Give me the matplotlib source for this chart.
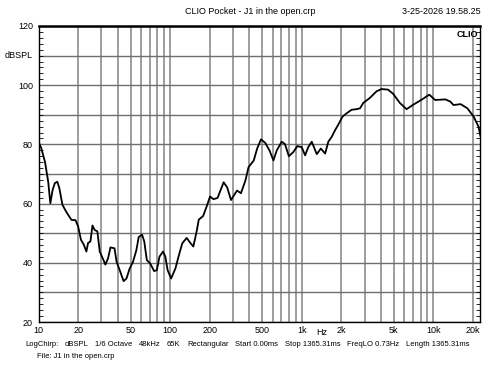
import matplotlib
matplotlib.use("Agg")
import matplotlib.pyplot as plt
from matplotlib.ticker import FixedLocator, NullLocator

plt.rcParams['font.family'] = ['Liberation Sans', 'DejaVu Sans']

freq_hz = [10, 10.5, 11.2, 11.85, 12.3, 12.8, 13.3, 13.9, 14.4, 15.2, 16.3, 17.8, 19.1,
           20, 21, 22.1, 23.1, 23.8, 24.8, 25.7, 26.7, 28.0, 29.2, 31.1, 32.2, 33.8, 35.2,
           37.8, 39.2, 41.4, 44.3, 46.6, 49.3, 52.2, 55.4, 57.7, 61.2, 63.6, 66.5, 70.5,
           75.6, 79.2, 83.0, 88.3, 91.9, 95.7, 101.7, 109.7, 116.6, 123.7, 133.5, 143, 150,
           159, 165, 178, 190, 201, 213, 229, 255, 271, 290, 322, 345, 373, 394, 432, 458,
           490, 528, 568, 609, 646, 704, 745, 798, 862, 924, 998, 1060, 1120, 1190, 1300,
           1395, 1505, 1590, 1690, 1790, 1890, 2040, 2190, 2390, 2610, 2770, 2930, 3290,
           3690, 4030, 4520, 4940, 5560, 6250, 7020, 8130, 9300, 10300, 12300, 13400,
           14200, 16100, 18100, 20200, 22000, 22700]
spl_db = [80.9, 78.7, 74.1, 67.4, 60.1, 64.6, 66.9, 67.4, 65.2, 59.6, 57.1, 54.5, 54.4,
          52.3, 47.8, 46.1, 43.8, 46.7, 47.2, 52.6, 51.1, 50.6, 43.8, 41.0, 39.4, 41.6, 45.2,
          44.9, 40.3, 37.5, 33.8, 34.7, 38.1, 40.3, 44.3, 48.7, 49.5, 47.2, 40.9, 39.8,
          37.2, 37.5, 42.1, 43.8, 42.1, 37.5, 34.7, 38.1, 42.6, 46.6, 48.4, 46.6, 45.5,
          50.6, 54.6, 55.8, 59.2, 62.4, 61.5, 61.9, 67.2, 65.5, 61.2, 64.4, 63.5, 67.8,
          72.3, 74.6, 78.6, 81.7, 80.5, 78.0, 74.6, 78.0, 80.9, 80.1, 76.0, 77.4, 79.4,
          79.1, 76.3, 79.1, 80.9, 76.7, 78.6, 76.9, 80.9, 82.6, 84.8, 86.6, 89.4, 90.5,
          91.7, 91.9, 92.2, 94.0, 95.7, 97.9, 98.7, 98.5, 97.1, 94.0, 91.9, 93.4, 95.1,
          96.8, 95.0, 95.2, 94.5, 93.3, 93.6, 92.2, 89.4, 86.0, 83.0]

x_tick_vals = [10, 20, 50, 100, 200, 500, 1000, 2000, 5000, 10000, 20000]
x_tick_labels = ['10', '20', '50', '100', '200', '500', '1k', '2k', '5k', '10k', '20k']
x_grid_vals = [d * m for d in (10, 100, 1000) for m in range(1, 10)] + [10000, 20000]
y_tick_vals = [20, 40, 60, 80, 100, 120]
y_grid_vals = list(range(20, 121, 10))

title = 'CLIO Pocket - J1 in the open.crp'
date_text = '3-25-2026 19.58.25'
info_fields = ['LogChirp:', 'dBSPL', '1/6 Octave', '48kHz', '65K', 'Rectangular',
               'Start 0.00ms', 'Stop 1365.31ms', 'FreqLO 0.73Hz', 'Length 1365.31ms']
file_line = 'File: J1 in the open.crp'

fig = plt.figure(figsize=(5, 3.75), dpi=100)
ax = fig.add_axes([0.077, 0.1413, 0.8836, 0.7894])
ax.set_xscale('log')
ax.set_xlim(10, 22700)
ax.set_ylim(20, 120)

for xv in x_grid_vals:
    ax.axvline(xv, color='#8c8c8c', lw=1.2, zorder=1)
for yv in y_grid_vals:
    ax.axhline(yv, color='#6e6e6e', lw=1.0, zorder=1)

ax.plot(freq_hz, spl_db, color='black', lw=1.3, zorder=3)

ax.xaxis.set_major_locator(FixedLocator(x_tick_vals))
ax.set_xticklabels(x_tick_labels)
ax.xaxis.set_minor_locator(NullLocator())
ax.tick_params(axis='x', which='both', length=0, labelsize=6.5, pad=3)

ax.yaxis.set_major_locator(FixedLocator(y_tick_vals))
ax.set_yticklabels([str(v) for v in y_tick_vals])
ax.yaxis.set_minor_locator(FixedLocator(list(range(20, 121, 2))))
ax.tick_params(axis='y', which='major', length=0, labelsize=6.5, pad=4)
ax.tick_params(axis='y', which='minor', direction='in', length=3, width=0.6,
               left=True, right=True)

for s in ax.spines.values():
    s.set_color('black')
    s.set_linewidth(1.0)
ax.spines['top'].set_linewidth(1.8)

ax.text(-0.012, 0.9, 'dBSPL', transform=ax.transAxes, ha='right', va='center', fontsize=6.5)
ax.annotate('Hz', xy=(1420, 20), xycoords='data', xytext=(0, -4.2),
            textcoords='offset points', ha='center', va='top', fontsize=6.5,
            annotation_clip=False)
ax.text(0.995, 0.985, 'CLIO', transform=ax.transAxes, ha='right', va='top',
        fontsize=6.5, fontweight='bold', zorder=5)

fig.text(0.5, 0.968, title, ha='center', va='center', fontsize=6.5)
fig.text(0.961, 0.968, date_text, ha='right', va='center', fontsize=6.5)

# info line: fields spread between x=25 px and x=469 px
renderer = fig.canvas.get_renderer()
info_y = 1 - 344 / 375
texts = [fig.text(0, info_y, f, ha='left', va='center', fontsize=5.5) for f in info_fields]
widths = [t.get_window_extent(renderer=renderer).width for t in texts]
x0_px, x1_px = 25.0, 469.0
gap = (x1_px - x0_px - sum(widths)) / (len(texts) - 1)
xp = x0_px
for t, w in zip(texts, widths):
    t.set_x(xp / 500)
    xp += w + gap
fig.text(36.7 / 500, 1 - 357 / 375, file_line, ha='left', va='center', fontsize=5.5)

fig.savefig('out.png', dpi=100)
